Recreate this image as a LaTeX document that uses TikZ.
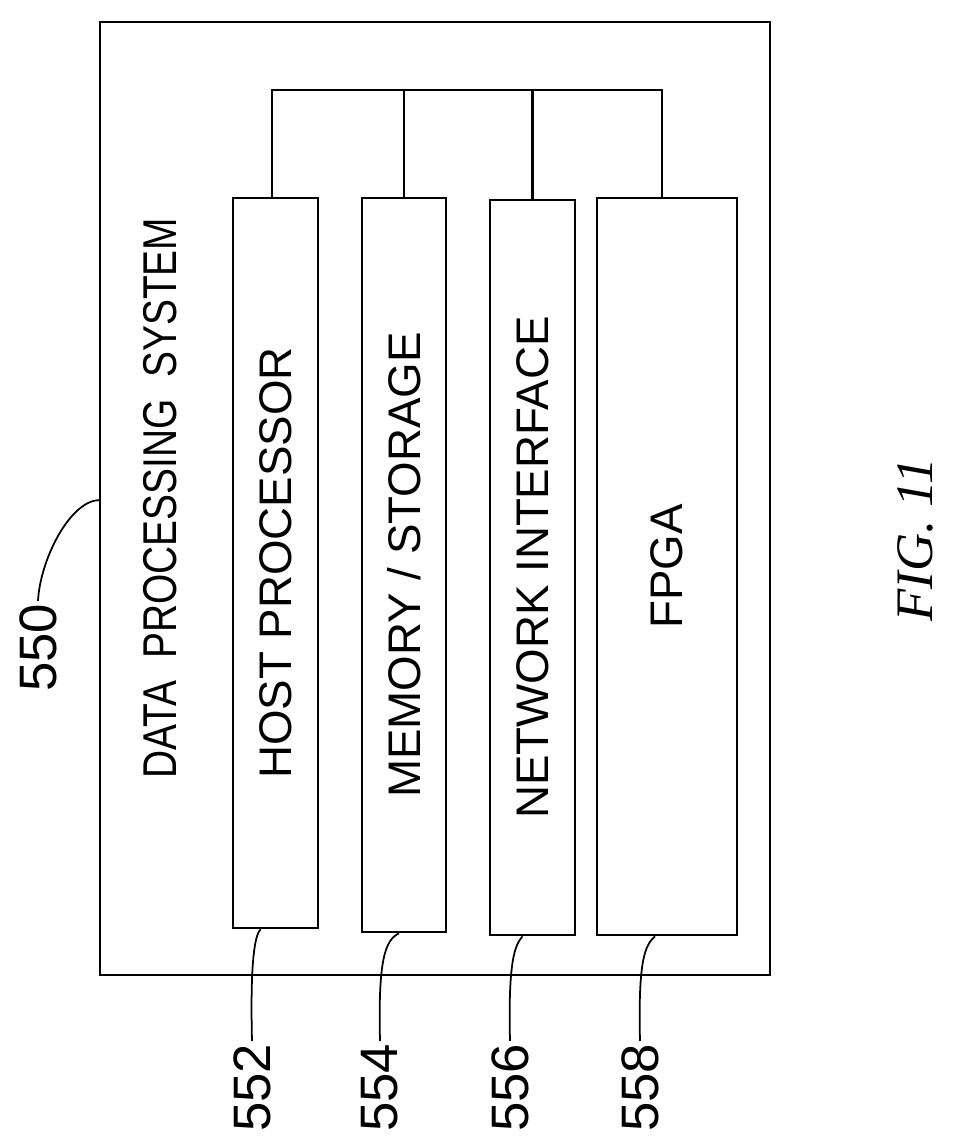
\documentclass[tikz,border=0pt]{standalone}
\usepackage{fontspec}
\setmainfont{Liberation Sans}
\newfontfamily\figfont{Liberation Serif}
\usetikzlibrary{calc}
\begin{document}
\begin{tikzpicture}[x=0.02cm,y=-0.02cm,line width=1.5pt,
  unit/.style={draw,rotate=90,inner sep=0pt,font=\fontsize{26}{28}\selectfont},
  refnum/.style={rotate=90,inner sep=1pt,font=\fontsize{30}{32}\selectfont}]
	\useasboundingbox (0,0) rectangle (954,1146);

	%OUTER SYSTEM
	\node[unit,minimum width=953*0.02cm,minimum height=670*0.02cm] (dps) at (435,498.5) {};
	\node[rotate=90,font=\fontsize{27}{29}\selectfont,xscale=0.82] (dpstext) at (160,498) {DATA\ \ PROCESSING\ \ SYSTEM};

	%UNITS
	\node[unit,minimum width=730*0.02cm,minimum height=85*0.02cm] (host) at (275.5,563) {HOST PROCESSOR};
	\node[unit,minimum width=734*0.02cm,minimum height=84*0.02cm] (mem) at (404,565) {MEMORY / STORAGE};
	\node[unit,minimum width=735*0.02cm,minimum height=85*0.02cm] (net) at (532.5,567.5) {NETWORK INTERFACE};
	\node[unit,minimum width=737*0.02cm,minimum height=140*0.02cm] (fpga) at (667,566.5) {FPGA};

	%BUS
	\coordinate (bh) at (272,90);
	\coordinate (bf) at (662,90);
	\draw (host.east -| bh) -- (bh) -- (bf) -- (fpga.east -| bf);
	\draw (mem.east) -- (mem.east |- bh);
	\draw (net.east) -- (net.east |- bh);

	%REFERENCE NUMERALS
	\node[refnum] (n550) at (38,648) {550};
	\node[refnum] (n552) at (252,1088) {552};
	\node[refnum] (n554) at (380,1088) {554};
	\node[refnum] (n556) at (510,1088) {556};
	\node[refnum] (n558) at (640,1088) {558};

	\draw[line width=1pt] (n550.east) .. controls (40,560) and (70,500) .. (100,500);
	\draw[line width=1pt] (n552.east) .. controls (250,960) and (255,935) .. ($(host.west)+(-15,0)$);
	\draw[line width=1pt] (n554.east) .. controls (378,960) and (385,940) .. ($(mem.west)+(-5,0)$);
	\draw[line width=1pt] (n556.east) .. controls (508,960) and (515,945) .. ($(net.west)+(-10,0)$);
	\draw[line width=1pt] (n558.east) .. controls (638,960) and (645,945) .. ($(fpga.west)+(-12,0)$);

	\node[rotate=90,font=\fontsize{30}{32}\selectfont\figfont\itshape] (fig) at (915,540) {FIG. 11};
\end{tikzpicture}
\end{document}
